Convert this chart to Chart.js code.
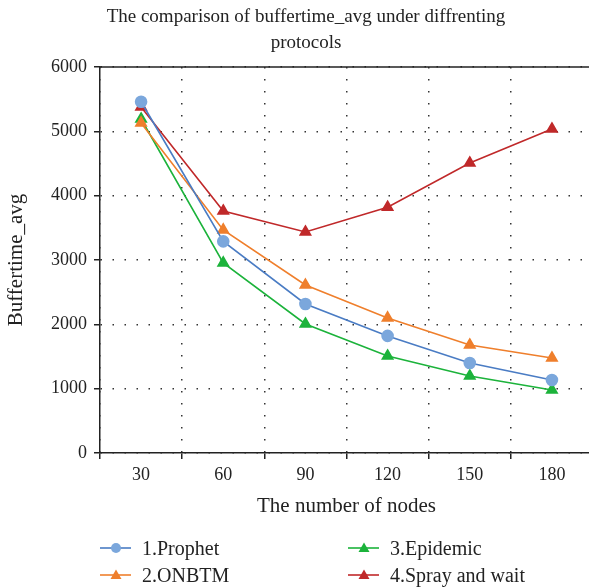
<!DOCTYPE html>
<html>
<head>
<meta charset="utf-8">
<script src="https://cdn.jsdelivr.net/npm/chart.js@4.4.0/dist/chart.umd.min.js"></script>
<style>
  html, body { margin: 0; padding: 0; background: #fff; overflow: hidden; }
  #wrap { position: relative; width: 589px; height: 587px; overflow: hidden; }
  #title {
    position: absolute; left: 106px; width: 400px; top: 3px;
    text-align: center; line-height: 26px;
    font-family: "Liberation Serif", "DejaVu Serif", serif; font-size: 19px; color: #222;
  }
  #legend {
    position: absolute; left: 100px; top: 536px;
    display: grid; grid-template-columns: 248px 220px; row-gap: 3px;
    font-family: "Liberation Serif", "DejaVu Serif", serif; font-size: 20px; color: #222;
  }
  .item { display: flex; align-items: center; height: 24px; white-space: nowrap; }
  .item svg { margin-right: 11px; }
</style>
</head>
<body>
<div id="wrap">
  <canvas id="myChart" width="593" height="587"></canvas>
  <div id="title">The comparison of buffertime_avg under diffrenting<br>protocols</div>
  <div id="legend"></div>
</div>
<script>
const nodes = ['30', '60', '90', '120', '150', '180'];
const prophet = [5460, 3290, 2316, 1820, 1400, 1135];
const onbtm = [5130, 3467, 2611, 2099, 1679, 1477];
const epidemic = [5192, 2954, 2005, 1508, 1197, 979];
const spray = [5378, 3762, 3435, 3820, 4508, 5036];
const yTicks = [0, 1000, 2000, 3000, 4000, 5000, 6000];

const serif = '"Liberation Serif", "DejaVu Serif", serif';

const series = [
  { label: '1.Prophet', data: prophet, line: '#4a7cc4', mark: '#7ba7dc', style: 'circle', r: 5.5 },
  { label: '2.ONBTM', data: onbtm, line: '#ef7f2c', mark: '#ef7f2c', style: 'triangle', r: 6 },
  { label: '3.Epidemic', data: epidemic, line: '#1cb33b', mark: '#1cb33b', style: 'triangle', r: 6 },
  { label: '4.Spray and wait', data: spray, line: '#c0292a', mark: '#c0292a', style: 'triangle', r: 6 }
];

// solid line along the top of the plot
const topLine = {
  id: 'topLine',
  afterDraw(chart) {
    const a = chart.chartArea, c = chart.ctx;
    c.save();
    c.strokeStyle = '#222';
    c.lineWidth = 1.5;
    c.beginPath();
    c.moveTo(a.left, a.top);
    c.lineTo(a.right, a.top);
    c.stroke();
    c.restore();
  }
};

const ctx = document.getElementById('myChart').getContext('2d');

new Chart(ctx, {
  type: 'line',
  data: {
    labels: nodes,
    datasets: series.map(s => ({
      label: s.label,
      data: s.data,
      borderColor: s.line,
      backgroundColor: s.mark,
      pointBackgroundColor: s.mark,
      pointBorderColor: s.mark,
      pointStyle: s.style,
      pointRadius: s.r,
      borderWidth: 1.6,
      tension: 0,
      fill: false
    }))
  },
  options: {
    responsive: false,
    animation: false,
    layout: { autoPadding: false, padding: { left: 0, right: 0, top: 67, bottom: 64 } },
    plugins: {
      legend: { display: false },
      tooltip: { enabled: false },
      title: { display: false }
    },
    scales: {
      x: {
        offset: true,
        grid: {
          offset: true,
          color: '#333',
          lineWidth: 1.5,
          tickLength: 6,
          tickColor: '#222',
          tickWidth: 1.5
        },
        border: { display: true, color: '#222', width: 1.5, dash: [1.5, 10.5] },
        ticks: { color: '#222', font: { family: serif, size: 18 }, padding: 5, maxRotation: 0 },
        title: {
          display: true, text: 'The number of nodes', color: '#222',
          font: { family: serif, size: 21 }, padding: { top: 2 }
        },
        afterFit(s) { s.height = 70; s.paddingLeft = 0; s.paddingRight = 0; }
      },
      y: {
        min: 0,
        max: 6000,
        afterBuildTicks(s) { s.ticks = yTicks.map(v => ({ value: v })); },
        grid: {
          color: '#333',
          lineWidth: 1.5,
          tickLength: 6,
          tickColor: '#222',
          tickWidth: 1.5
        },
        border: { display: true, color: '#222', width: 1.5, dash: [1.5, 10.5] },
        ticks: { color: '#222', font: { family: serif, size: 18 }, padding: 7, callback: v => String(v) },
        title: {
          display: true, text: 'Buffertime_avg', color: '#222',
          font: { family: serif, size: 21 }, padding: { top: 4, bottom: 0 }
        },
        afterFit(s) { s.width = 100; }
      }
    }
  },
  plugins: [topLine]
});

// legend in two columns
const legend = document.getElementById('legend');
[0, 2, 1, 3].forEach(i => {
  const s = series[i];
  const marker = s.style === 'circle'
    ? '<circle cx="16" cy="8" r="5" fill="' + s.mark + '"/>'
    : '<polygon points="16,2.5 21.5,12 10.5,12" fill="' + s.mark + '"/>';
  const div = document.createElement('div');
  div.className = 'item';
  div.innerHTML = '<svg width="31" height="16"><line x1="0" y1="8" x2="31" y2="8" stroke="' + s.line +
    '" stroke-width="1.6"/>' + marker + '</svg><span>' + s.label + '</span>';
  legend.appendChild(div);
});
</script>
</body>
</html>
